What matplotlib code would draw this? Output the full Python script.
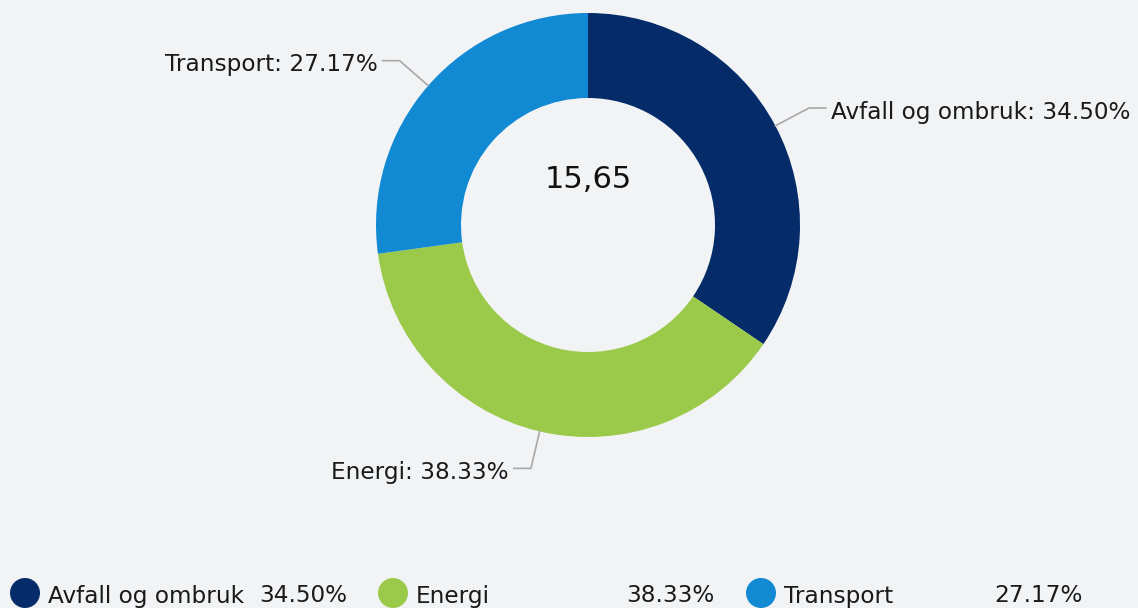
import numpy as np
import matplotlib
matplotlib.use("Agg")
import matplotlib.pyplot as plt
from matplotlib.patches import Ellipse

# data
categories = ["Avfall og ombruk", "Energi", "Transport"]
shares = [34.50, 38.33, 27.17]
total_label = "15,65"
colors = ["#052c69", "#9bca4a", "#1189d3"]

W, H = 1138, 608
bg = "#f2f3f5"

fig = plt.figure(figsize=(W / 100, H / 100), dpi=100, facecolor=bg)
ax = fig.add_axes([0, 0, 1, 1])
ax.set_facecolor(bg)

cx, cy = 588, H - 225
r_out, r_in = 212, 127

ax.pie(shares, colors=colors, startangle=90, counterclock=False,
       radius=r_out, center=(cx, cy),
       wedgeprops=dict(width=r_out - r_in, linewidth=0))

ax.text(cx, H - 180, total_label, ha="center", va="center",
        fontsize=22, color="#111111")

# leader lines + labels
cum = np.cumsum([0] + shares[:-1])
for name, s, c0 in zip(categories, shares, cum):
    ang = np.deg2rad(90 - (c0 + s / 2) * 3.6)
    x0, y0 = cx + r_out * np.cos(ang), cy + r_out * np.sin(ang)
    x1, y1 = cx + 250 * np.cos(ang), cy + 250 * np.sin(ang)
    side = 1 if np.cos(ang) > 0 else -1
    x2 = x1 + side * 17
    ax.plot([x0, x1, x2], [y0, y1, y1], color="#a8a8a8", lw=1.2)
    ax.text(x2 + side * 5, y1 - 4, "%s: %.2f%%" % (name, s),
            ha="left" if side > 0 else "right", va="center",
            fontsize=16.7, color="#1a1a1a")

# legend
leg_y = H - 596
leg_x = [25, 393, 761]
val_right = [347, 714, 1083]
for i in range(3):
    ax.add_patch(Ellipse((leg_x[i], leg_y + 3), 30, 30, color=colors[i], lw=0))
    ax.text(leg_x[i] + 23, leg_y, categories[i], ha="left", va="center",
            fontsize=16.7, color="#1a1a1a")
    ax.text(val_right[i], leg_y, "%.2f%%" % shares[i], ha="right", va="center",
            fontsize=16.7, color="#1a1a1a")

ax.set_xlim(0, W)
ax.set_ylim(0, H)
ax.set_aspect("auto")
ax.axis("off")

fig.savefig("out.png", dpi=100, facecolor=bg)
